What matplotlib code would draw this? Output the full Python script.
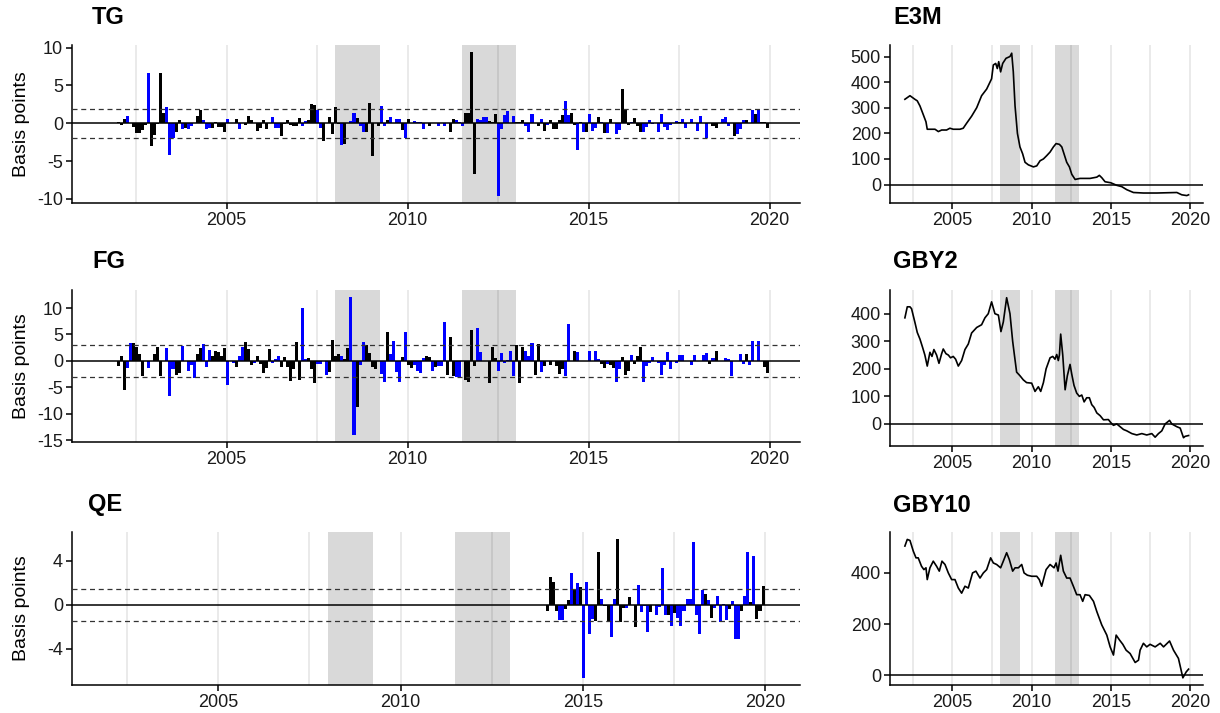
import numpy as np
import matplotlib
matplotlib.use("Agg")
import matplotlib.pyplot as plt

plt.rcParams['font.family'] = ['Liberation Sans', 'DejaVu Sans']

# ---------------------------------------------------------------------------
# Monthly surprise components (basis points), Jan 2002 - Dec 2019
# kind: k = black event, b = blue event
# ---------------------------------------------------------------------------
tg_start = 2002
tg_values = [
    0.1, -0.2, 0.6, 1.0, 0.0, -0.5, -1.3, -1.3, -0.9, -0.2,
    6.6, -3.0, -1.6, -0.1, 6.6, 1.3, 2.1, -4.2, -2.0, -1.2,
    0.4, -0.8, -0.6, -0.7, -0.3, 0.0, 1.0, 1.7, 0.4, -0.7,
    -0.6, -0.6, 0.1, -0.5, -0.5, -1.1, 0.6, 0.0, 0.0, 0.6,
    -0.7, 0.0, -0.2, 0.9, 0.4, 0.0, -1.0, -0.6, 0.4, -0.8,
    0.0, 0.8, -0.6, -0.6, -1.7, -0.1, 0.4, -0.2, -0.3, -0.3,
    0.7, -0.3, 0.3, 0.4, 2.6, 2.4, 1.8, -0.6, -2.4, 0.0,
    0.8, -1.4, 2.2, -0.1, -2.9, -2.8, 0.0, 0.3, 1.4, 0.7,
    -0.4, -1.2, -1.2, 2.7, -4.3, 0.0, -0.4, 2.3, -0.3, 0.4,
    0.8, 0.0, 0.5, 0.6, -0.9, -1.9, 0.6, 0.0, 0.3, 0.1,
    0.1, -0.7, 0.0, -0.4, 0.0, 0.0, -0.4, 0.0, -0.3, 0.0,
    -1.2, 0.6, 0.4, 0.1, -0.4, 1.4, 1.4, 9.4, -6.7, 0.5,
    0.4, 0.8, 0.8, 0.3, 0.1, 1.2, -9.6, -0.8, 1.1, 1.6,
    0.0, 1.0, 0.1, 0.1, 0.4, -0.3, -1.2, 1.2, 0.0, -0.3,
    0.6, -1.0, -0.2, 0.4, -0.8, -0.8, 0.4, 1.1, 2.9, 1.1,
    1.3, -0.2, -3.5, 0.1, -1.2, -1.1, 1.2, -1.0, -0.6, 0.8,
    0.2, -1.3, -1.3, 0.5, 0.0, -1.4, -0.9, 4.5, 1.9, -0.2,
    0.1, 0.7, -0.3, -1.1, -1.2, -0.5, 0.4, -0.1, 0.0, -1.2,
    1.2, -0.5, -0.9, -0.2, 0.0, 0.3, 0.2, 0.6, -0.6, 0.0,
    0.5, 0.0, -1.0, 0.9, 0.0, -2.0, 0.0, -0.4, -0.6, 0.0,
    0.5, 0.8, -0.4, 0.0, -1.7, -1.4, -0.8, 0.4, 0.4, 0.0,
    1.8, 1.2, 1.7, 0.1, 0.1, -0.6,
]
tg_kind = ("kkkbkkkkkk" "bkkkkkbbbk" "kbkbbkkkbb" "bkkkkkbkkk" "bkkkkkkkkk"
           "kbbbkkkkkk" "kbbkkkbbkk" "kkkkbkkbbk" "bbkkkkkbbk" "bkbbkbkkbb"
           "bbkkkkbkbk" "kkbbbkkkkb" "bbbkkkbbbb" "kbkkkbbbkk" "bkbkkkkkbb"
           "kkbkbkbbbk" "bkbkkbbkkk" "bkkkbbbbkb" "bbbbkbkbbk" "bkbbkbkkkk"
           "bbbkkbbbkk" "bkbkkk")
tg_band = 1.9

fg_start = 2002
fg_values = [
    -1.0, 1.0, -5.4, -1.4, 3.3, 3.3, 2.6, 1.3, -2.8, 0.0,
    -1.4, 0.0, 1.4, 2.6, -2.8, 0.0, 2.4, -6.7, -1.5, -2.7,
    -2.2, 2.8, 0.0, -1.8, -0.7, -3.3, 1.4, 2.5, 3.2, -1.1,
    2.0, 0.9, 1.8, 1.6, 0.9, 2.4, -4.6, 0.0, -0.4, -1.2,
    0.9, 2.6, 3.5, 2.3, -0.8, -0.4, 0.9, -0.6, -2.3, -1.3,
    2.2, -0.4, 0.4, 0.9, -1.1, 0.8, -1.2, -3.8, -1.6, 3.6,
    -3.6, 10.0, 0.4, 0.6, -1.6, -4.2, -0.6, -0.6, 0.0, -2.7,
    -2.1, 3.9, 0.9, 1.4, 0.9, 0.4, 2.4, 12.1, -14.0, -8.6,
    -0.8, 3.5, 3.0, 1.5, -1.2, -1.5, 0.0, -2.4, -4.0, 5.4,
    1.3, 3.7, -2.0, -4.0, 0.7, 5.4, -0.8, -1.4, -0.8, -1.9,
    -2.3, 0.5, 0.9, 0.8, -1.8, -1.2, -1.0, -1.0, 7.3, -2.6,
    4.5, -2.8, -3.1, -3.3, 0.0, -3.5, -4.0, 5.8, -1.0, 6.2,
    1.7, 0.0, 0.0, -4.2, 2.6, 0.6, -1.8, 1.5, -0.4, 0.2,
    1.8, -2.8, 3.0, -4.2, 2.6, 1.9, 0.9, 3.4, -2.6, 3.2,
    -2.1, -0.9, 0.0, -0.8, 0.0, -1.0, -2.4, -1.6, -2.9, 6.9,
    0.0, 1.9, 1.6, 0.0, 0.0, 0.0, 1.9, 0.0, 1.9, 0.3,
    -0.6, -1.4, -0.5, -0.8, -1.3, -3.9, -1.6, 0.8, -2.6, -1.8,
    1.1, -0.6, 0.9, 2.7, -3.9, -0.9, -0.3, 0.8, 0.0, -0.4,
    -2.6, -0.8, 1.6, -1.5, 0.0, -0.4, 1.1, 1.1, 0.0, 0.0,
    -0.8, 1.1, 0.0, 0.0, 1.1, 1.5, -0.6, 0.5, 1.8, 0.0,
    0.0, 0.6, 0.4, -2.9, 0.0, 0.0, 1.4, -0.5, 1.3, -0.8,
    3.8, 0.0, 3.7, -0.1, -1.2, -2.2,
]
fg_kind = ("kkkbbkkkkk" "bkkkkkbbbk" "kbkbbbkkbb" "bkkkkkbkbk" "bbkkkbkkkk"
           "kbbbkkkkkk" "kbbkkkbbkb" "kkkkbkkbbk" "bbkkkkkbbk" "bbbbkbkkbb"
           "bbkkbkbbbk" "kkbbkkkkkb" "bkkkkkbbbb" "bbkkkbbbkk" "bkkkkkkkbb"
           "kkbkkkbkbb" "kkbkkbbkkk" "bkkkbbbbkb" "bbbbkbbbkk" "bbkkbbkbkk"
           "kbbbkkbbkb" "bkbkkk")
fg_band = 3.1

# QE component, Jan 2014 - Dec 2019
qe_start = 2014
qe_values = [
    -0.6, 2.5, 2.1, -0.6, -1.4, -1.4, -0.4, 0.4, 2.9, 1.3,
    2.0, 1.6, -6.7, 2.1, -2.7, -1.3, -1.5, 4.8, 0.5, -0.1,
    -1.6, -2.9, 0.5, 6.0, -1.6, -0.3, -0.3, 0.7, 0.0, -2.0,
    1.8, -0.7, -0.1, -2.5, -0.7, 0.0, -0.9, -0.2, 3.3, -0.9,
    -0.9, -1.9, -0.8, -1.2, -1.9, -0.6, 0.5, 0.5, 5.7, -0.9,
    -2.7, 1.3, 1.0, 0.4, -1.2, -0.3, 0.8, -1.6, 0.1, -1.4,
    -0.4, 0.3, -3.1, -3.1, -0.6, 0.8, 4.8, 0.2, 4.4, -1.3,
    -0.6, 1.7,
]
qe_kind = ("kkkkbbkkbk" "bkbbbbkkbk" "kbbkkkbkkk" "bbbbkkbbbb" "kbkbbbbbbb"
           "bbkbkbbbbb" "kbbbkbbkbk" "kk")
qe_band = 1.46

# ---------------------------------------------------------------------------
# Yields (basis points)
# ---------------------------------------------------------------------------
e3m_year = [2002.01, 2002.33, 2002.64, 2002.79, 2002.96, 2003.17, 2003.34, 2003.42,
            2003.59, 2003.91, 2004.12, 2004.33, 2004.64, 2004.85, 2005.06, 2005.48,
            2005.69, 2005.91, 2006.22, 2006.54, 2006.85, 2007.17, 2007.48, 2007.59,
            2007.74, 2007.84, 2007.93, 2008.05, 2008.18, 2008.39, 2008.64, 2008.75,
            2008.85, 2008.96, 2009.11, 2009.27, 2009.44, 2009.59, 2009.80, 2010.12,
            2010.33, 2010.54, 2010.75, 2010.96, 2011.17, 2011.38, 2011.55, 2011.76,
            2011.91, 2012.05, 2012.22, 2012.39, 2012.54, 2012.75, 2013.06, 2013.69,
            2014.12, 2014.28, 2014.43, 2014.64, 2015.00, 2015.38, 2015.69, 2016.01,
            2016.43, 2017.06, 2017.91, 2019.17, 2019.48, 2019.80, 2019.91]
e3m_value = [333, 347, 333, 327, 307, 273, 245, 216,
             216, 216, 207, 213, 213, 220, 216, 216,
             220, 240, 267, 300, 347, 373, 413, 467,
             473, 453, 480, 440, 473, 493, 500, 513,
             440, 307, 200, 147, 120, 87, 77, 69,
             73, 93, 100, 113, 127, 147, 160, 157,
             147, 120, 87, 69, 40, 20, 24, 24,
             29, 36, 27, 11, 7, -3, -8, -20,
             -31, -33, -33, -31, -40, -43, -40]

gby2_year = [2002.01, 2002.16, 2002.33, 2002.43, 2002.64, 2002.79, 2002.96, 2003.13,
             2003.27, 2003.42, 2003.59, 2003.72, 2003.84, 2004.01, 2004.16, 2004.33,
             2004.43, 2004.60, 2004.75, 2004.89, 2005.06, 2005.21, 2005.38, 2005.59,
             2005.80, 2006.01, 2006.22, 2006.54, 2006.85, 2007.06, 2007.27, 2007.48,
             2007.69, 2007.91, 2008.07, 2008.22, 2008.43, 2008.64, 2008.81, 2008.92,
             2009.06, 2009.27, 2009.48, 2009.69, 2010.01, 2010.22, 2010.43, 2010.58,
             2010.75, 2010.92, 2011.17, 2011.34, 2011.48, 2011.59, 2011.69, 2011.76,
             2011.84, 2011.97, 2012.12, 2012.26, 2012.43, 2012.54, 2012.68, 2012.85,
             2013.02, 2013.17, 2013.32, 2013.48, 2013.65, 2013.80, 2013.95, 2014.12,
             2014.33, 2014.54, 2014.85, 2015.00, 2015.17, 2015.38, 2015.59, 2015.80,
             2016.01, 2016.33, 2016.64, 2016.96, 2017.27, 2017.59, 2017.80, 2018.01,
             2018.22, 2018.43, 2018.71, 2018.85, 2019.17, 2019.38, 2019.59, 2019.69,
             2019.91]
gby2_value = [385, 425, 425, 418, 369, 332, 308, 277,
              250, 210, 260, 245, 270, 250, 220, 255,
              272, 255, 250, 240, 245, 235, 210, 230,
              270, 290, 330, 350, 360, 385, 400, 443,
              400, 395, 335, 370, 458, 400, 300, 250,
              188, 175, 160, 150, 148, 118, 135, 118,
              150, 200, 240, 245, 235, 252, 230, 250,
              326, 250, 124, 175, 216, 180, 140, 112,
              100, 105, 80, 95, 95, 70, 60, 40,
              30, 15, 16, 5, -5, 0, -10, -20,
              -25, -35, -40, -35, -40, -35, -48, -35,
              -25, 0, 13, 0, -10, -15, -50, -45,
              -42]

gby10_year = [2002.01, 2002.16, 2002.33, 2002.54, 2002.71, 2002.85, 2003.06, 2003.21,
              2003.34, 2003.42, 2003.59, 2003.80, 2004.01, 2004.18, 2004.35, 2004.54,
              2004.75, 2004.96, 2005.17, 2005.38, 2005.59, 2005.80, 2006.01, 2006.28,
              2006.49, 2006.75, 2006.96, 2007.17, 2007.42, 2007.59, 2007.80, 2008.05,
              2008.22, 2008.43, 2008.60, 2008.81, 2008.96, 2009.17, 2009.38, 2009.53,
              2009.74, 2010.01, 2010.33, 2010.49, 2010.64, 2010.92, 2011.17, 2011.42,
              2011.55, 2011.67, 2011.84, 2012.01, 2012.22, 2012.43, 2012.64, 2012.85,
              2013.06, 2013.23, 2013.38, 2013.65, 2013.91, 2014.12, 2014.43, 2014.75,
              2014.96, 2015.17, 2015.34, 2015.55, 2015.76, 2015.97, 2016.22, 2016.54,
              2016.75, 2016.85, 2017.06, 2017.27, 2017.48, 2017.80, 2018.12, 2018.33,
              2018.71, 2018.96, 2019.27, 2019.55, 2019.76, 2019.91]
gby10_value = [505, 531, 527, 485, 459, 459, 426, 413,
               420, 374, 420, 446, 426, 407, 446, 433,
               400, 374, 374, 341, 321, 348, 341, 400,
               407, 380, 400, 413, 459, 439, 433, 420,
               446, 479, 452, 407, 420, 420, 433, 400,
               391, 387, 387, 374, 348, 413, 433, 420,
               439, 407, 469, 407, 380, 380, 348, 315,
               315, 289, 315, 312, 289, 249, 197, 157,
               111, 79, 157, 138, 121, 98, 85, 50,
               59, 98, 125, 111, 121, 111, 125, 111,
               134, 98, 66, -10, 13, 24]

# Crisis periods shaded in every panel
shade_periods = [(2008.0, 2009.25), (2011.5, 2013.0)]
grid_years = [2002.5, 2005, 2007.5, 2010, 2012.5, 2015, 2017.5, 2020]
year_ticks = [2005, 2010, 2015, 2020]

KIND_COLOR = {"k": "#000000", "b": "#0000FF"}
W, H = 1220, 713
TEXT_COL = "#1a1a1a"


def px_axes(fig, x0, y0, x1, y1):
    return fig.add_axes([x0 / W, 1 - y1 / H, (x1 - x0) / W, (y1 - y0) / H])


def style(ax, xlim, ylim, yticks):
    for s in ("top", "right"):
        ax.spines[s].set_visible(False)
    for s in ("left", "bottom"):
        ax.spines[s].set_linewidth(1.1)
        ax.spines[s].set_color("black")
    ax.set_xlim(*xlim)
    ax.set_ylim(*ylim)
    ax.set_xticks(year_ticks)
    ax.set_yticks(yticks)
    ax.set_yticklabels([str(t) for t in yticks])
    ax.tick_params(direction="out", length=4, width=1.1, color="black",
                   labelsize=13, labelcolor=TEXT_COL, pad=2.5)
    for a, b in shade_periods:
        ax.axvspan(a, b, color="#d9d9d9", lw=0, zorder=0)
    for g in grid_years:
        ax.axvline(g, color="black", alpha=0.09, lw=1.3, zorder=1)
    ax.axhline(0, color="black", lw=1.1, zorder=4)


def event_panel(ax, start, values, kinds, band, xlim, ylim, yticks):
    style(ax, xlim, ylim, yticks)
    x = start + np.arange(len(values)) / 12 + 0.02
    colors = [KIND_COLOR[k] for k in kinds]
    ax.bar(x, values, width=1 / 12, color=colors, lw=0, zorder=3)
    for b in (band, -band):
        ax.axhline(b, color="#333333", lw=0.9, ls=(0, (4, 3)), zorder=4)


def yield_panel(ax, years, values, ylim, yticks):
    style(ax, (2001.07, 2020.82), ylim, yticks)
    ax.plot(years, values, color="black", lw=1.2, zorder=3)


fig = plt.figure(figsize=(W / 100, H / 100), dpi=100)

ax_tg = px_axes(fig, 72, 45, 800, 203)
event_panel(ax_tg, tg_start, tg_values, tg_kind, tg_band,
            (2000.73, 2020.84), (-10.55, 10.35), [-10, -5, 0, 5, 10])

ax_fg = px_axes(fig, 72, 290, 800, 442)
event_panel(ax_fg, fg_start, fg_values, fg_kind, fg_band,
            (2000.73, 2020.84), (-15.3, 13.4), [-15, -10, -5, 0, 5, 10])

ax_qe = px_axes(fig, 72, 532, 800, 685)
event_panel(ax_qe, qe_start, qe_values, qe_kind, qe_band,
            (2000.99, 2020.95), (-7.3, 6.6), [-4, 0, 4])

ax_e3m = px_axes(fig, 890, 45, 1203, 203)
yield_panel(ax_e3m, e3m_year, e3m_value, (-72, 545), [0, 100, 200, 300, 400, 500])

ax_g2 = px_axes(fig, 890, 290, 1203, 446)
yield_panel(ax_g2, gby2_year, gby2_value, (-80, 486), [0, 100, 200, 300, 400])

ax_g10 = px_axes(fig, 890, 532, 1203, 685)
yield_panel(ax_g10, gby10_year, gby10_value, (-38, 560), [0, 200, 400])

titles = [("TG", 92, 18), ("FG", 92, 262), ("QE", 88, 505),
          ("E3M", 893, 18), ("GBY2", 893, 262), ("GBY10", 893, 505)]
for label, xp, yp in titles:
    fig.text(xp / W, 1 - yp / H, label, fontsize=17, fontweight="bold",
             ha="left", va="center", color="black")

for yc in (124, 366, 608):
    fig.text(22 / W, 1 - yc / H, "Basis points", rotation=90, fontsize=14,
             ha="center", va="center", color="black")

fig.savefig("out.png", dpi=100)
